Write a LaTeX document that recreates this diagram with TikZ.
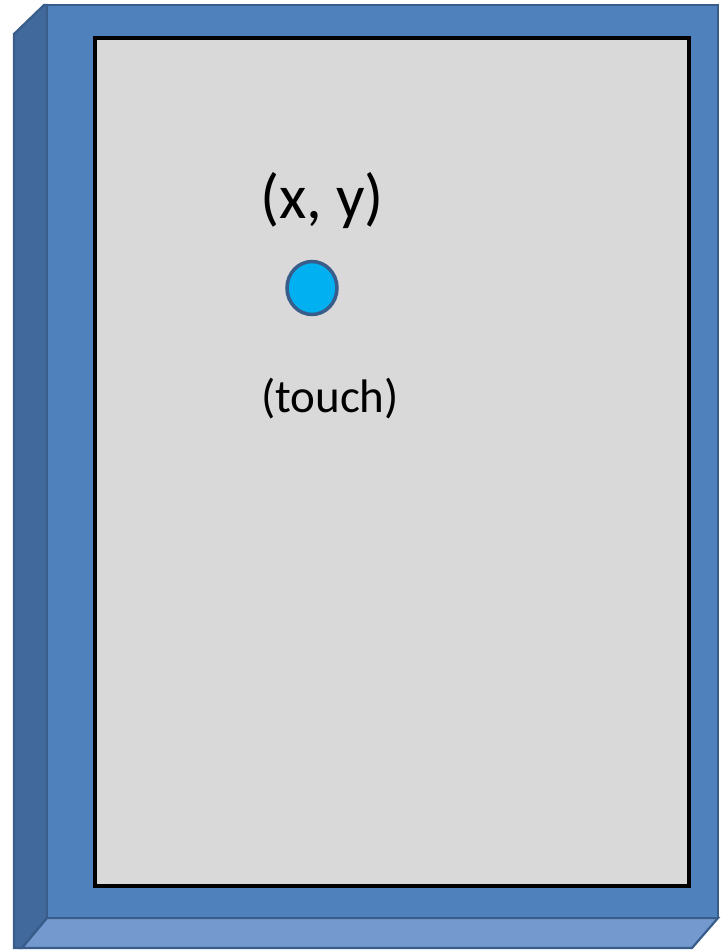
\documentclass[tikz,border=0pt]{standalone}
\usepackage{fontspec}
\setmainfont{Carlito}
\definecolor{frontblue}{HTML}{4F81BD}
\definecolor{sideblue}{HTML}{41699B}
\definecolor{bottomblue}{HTML}{7399CE}
\definecolor{edgeblue}{HTML}{385D8A}
\definecolor{screengray}{HTML}{D9D9D9}
\definecolor{dotblue}{HTML}{00B0F0}
\tikzset{
  face/.style={draw=edgeblue, line width=2.2pt, line join=miter},
  screenbox/.style={draw=black, fill=screengray, line width=4pt},
  touchdot/.style={ellipse, draw=edgeblue, fill=dotblue, line width=3.5pt, minimum width=50pt, minimum height=53pt, inner sep=0pt},
  bigtxt/.style={font=\fontsize{63}{75}\selectfont, inner sep=0pt},
  midtxt/.style={font=\fontsize{47}{56}\selectfont, inner sep=0pt}
}
\usetikzlibrary{shapes.geometric}
\begin{document}
\begin{tikzpicture}[x=1pt,y=-1pt]
\useasboundingbox (0,0) rectangle (720,950);
% side faces
\filldraw[face, fill=sideblue] (14,34) -- (44,5) -- (47,5) -- (47,918) -- (22,948) -- (14,948) -- cycle;
\filldraw[face, fill=bottomblue] (47,918) -- (718,918) -- (692,948) -- (22,948) -- cycle;
% front face
\filldraw[face, fill=frontblue] (47,5) rectangle (718,918);
% screen
\node[screenbox, minimum width=594pt, minimum height=848pt, inner sep=0pt] (screen) at (392,462) {};
% touch point
\node[touchdot] (dot) at (312,288) {};
\node[bigtxt] (xy) at (322,201) {(x, y)};
\node[midtxt] (touch) at (330,399) {(touch)};
\end{tikzpicture}
\end{document}
